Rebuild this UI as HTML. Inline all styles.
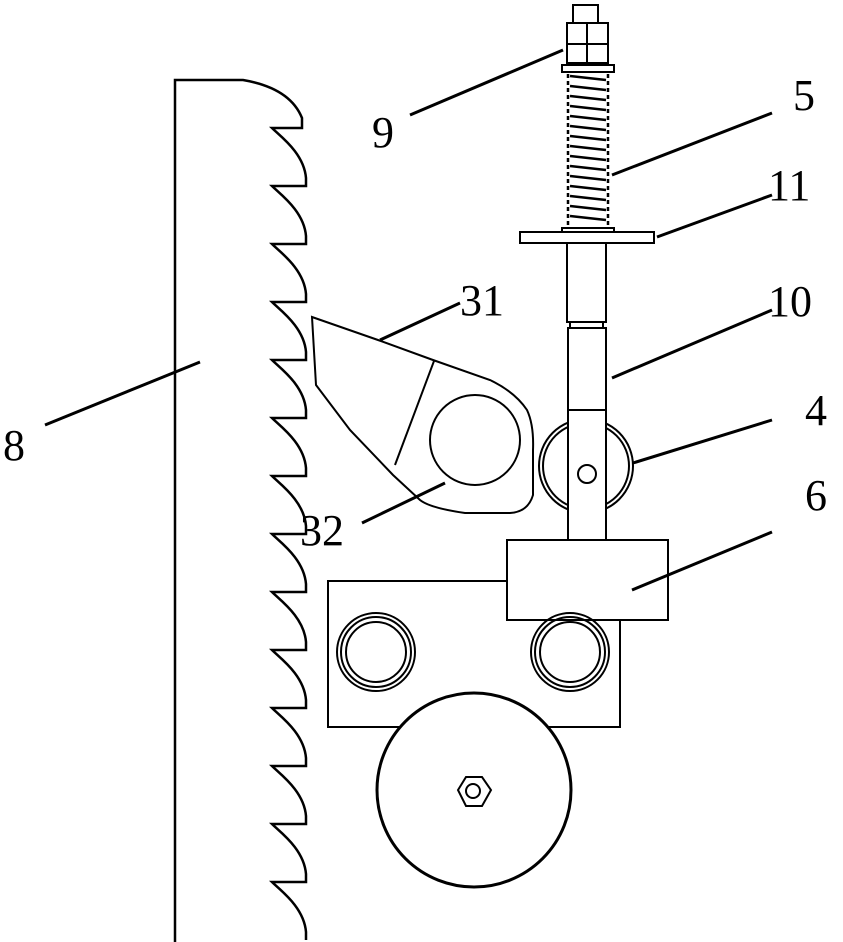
<!DOCTYPE html>
<html><head><style>body{margin:0;background:#fff}svg{display:block}text{font-family:"Liberation Serif",serif;font-size:44px;fill:#000}</style></head>
<body>
<svg width="843" height="942" viewBox="0 0 843 942" xmlns="http://www.w3.org/2000/svg">
<g fill="none" stroke="#000" stroke-width="2.5">
<path d="M175 942 V80 H243 Q290 88 302 118 V128 H272 c8 8 32 25 34 50 v8 h-34 c8 8 32 25 34 50 v8 h-34 c8 8 32 25 34 50 v8 h-34 c8 8 32 25 34 50 v8 h-34 c8 8 32 25 34 50 v8 h-34 c8 8 32 25 34 50 v8 h-34 c8 8 32 25 34 50 v8 h-34 c8 8 32 25 34 50 v8 h-34 c8 8 32 25 34 50 v8 h-34 c8 8 32 25 34 50 v8 h-34 c8 8 32 25 34 50 v8 h-34 c8 8 32 25 34 50 v8 h-34 c8 8 32 25 34 50 v8 h-34 c8 8 32 25 34 50 v8"/>
</g>
<g fill="none" stroke="#000" stroke-width="2">
<rect x="573" y="5" width="25" height="18"/>
<rect x="567" y="23" width="41" height="40"/>
<line x1="587" y1="23" x2="587" y2="63"/><line x1="567" y1="44" x2="608" y2="44"/>
<rect x="562" y="65" width="52" height="7"/>
<g stroke-width="2.5">
<path d="M570 76 L606 80 M570 86 L606 90 M570 96 L606 100 M570 106 L606 110 M570 116 L606 120 M570 126 L606 130 M570 136 L606 140 M570 146 L606 150 M570 156 L606 160 M570 166 L606 170 M570 176 L606 180 M570 186 L606 190 M570 196 L606 200 M570 206 L606 210 M570 216 L606 220"/>
<path d="M568 74 V226 M608 74 V226" stroke-dasharray="4 3"/>
</g>
<rect x="562" y="228" width="52" height="4"/>
<rect x="520" y="232" width="134" height="11"/>
<rect x="567" y="243" width="39" height="79"/>
<rect x="570" y="322" width="33" height="6"/>
<rect x="568" y="328" width="38" height="212"/>
<path d="M312 317 L378 340 L433 360 L490 380 Q515 392 527 410 Q534 425 533 450 L533 495 Q528 512 510 513 L465 513 Q430 508 420 500 L393 475 L350 430 L316 385 Z"/>
<line x1="434" y1="361" x2="395" y2="465"/>
<circle cx="475" cy="440" r="45"/>
<circle cx="586" cy="466" r="47"/><circle cx="586" cy="466" r="43"/>
<rect x="568" y="410" width="38" height="130" fill="#fff"/>
<circle cx="587" cy="474" r="9"/>
<rect x="328" y="581" width="292" height="146"/>
<rect x="507" y="540" width="161" height="80" fill="#fff"/>
<circle cx="376" cy="652" r="39"/><circle cx="376" cy="652" r="35"/><circle cx="376" cy="652" r="30"/>
<circle cx="570" cy="652" r="39"/><circle cx="570" cy="652" r="35"/><circle cx="570" cy="652" r="30"/>
<circle cx="474" cy="790" r="97" fill="#fff" stroke-width="3"/>
<polygon points="466,777 482,777 491,790 482,806 466,806 458,790"/>
<circle cx="473" cy="791" r="7"/>
</g>
<g stroke="#000" stroke-width="3">
<line x1="410" y1="115" x2="563" y2="50"/>
<line x1="612" y1="175" x2="772" y2="113"/>
<line x1="657" y1="237" x2="772" y2="195"/>
<line x1="380" y1="340" x2="460" y2="303"/>
<line x1="612" y1="378" x2="772" y2="310"/>
<line x1="633" y1="463" x2="772" y2="420"/>
<line x1="45" y1="425" x2="200" y2="362"/>
<line x1="362" y1="523" x2="445" y2="483"/>
<line x1="632" y1="590" x2="772" y2="532"/>
</g>
<text x="372" y="147">9</text>
<text x="793" y="110">5</text>
<text x="768" y="200">11</text>
<text x="460" y="315">31</text>
<text x="768" y="316">10</text>
<text x="805" y="425">4</text>
<text x="3" y="460">8</text>
<text x="300" y="545">32</text>
<text x="805" y="510">6</text>
</svg>
</body></html>
